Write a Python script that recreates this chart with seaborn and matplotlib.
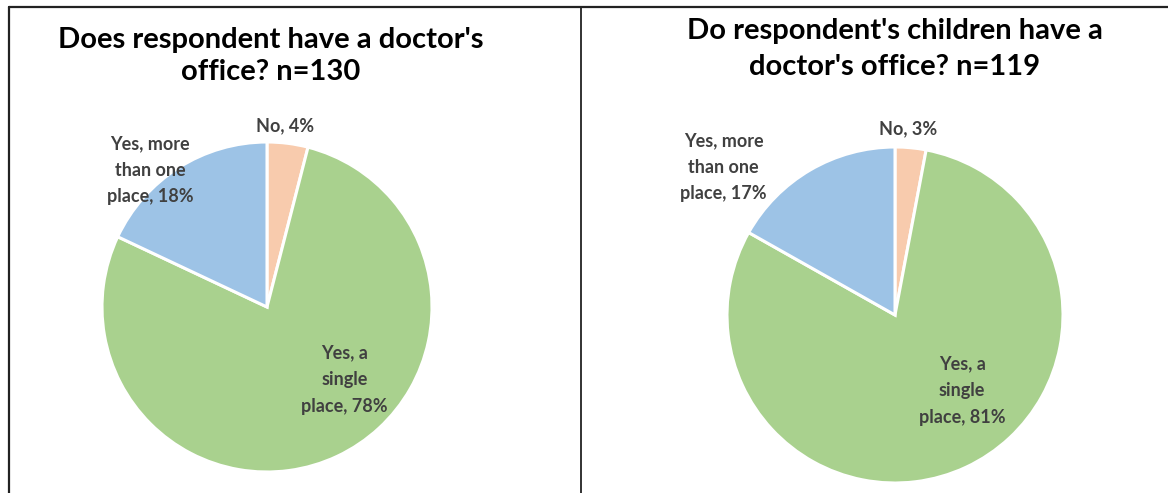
import matplotlib
matplotlib.use("Agg")
import matplotlib.pyplot as plt
from matplotlib.lines import Line2D
import seaborn as sns

# data
categories = ["No", "Yes, a single place", "Yes, more than one place"]
resp_pct = [4, 78, 18]
child_pct = [3, 81, 17]
colors = ["#F8CBAD", "#A9D18E", "#9DC3E6"]

sns.set_theme(style="white")
plt.rcParams["font.family"] = ["Lato", "DejaVu Sans"]

W, H = 1168, 493
fig = plt.figure(figsize=(W / 100, H / 100), dpi=100)
fig.patch.set_facecolor("white")


def make_ax(cx, cy, r, lim=1.3):
    # square axes centred on pie centre (pixel coords, y from top)
    half = r * lim
    return fig.add_axes([(cx - half) / W, 1 - (cy + half) / H, 2 * half / W, 2 * half / H]), lim


def draw_pie(ax, lim, values, label_pos, label_txt):
    ax.pie(values, colors=colors, startangle=90, counterclock=False,
           wedgeprops=dict(edgecolor="white", linewidth=2.2))
    ax.set_xlim(-lim, lim)
    ax.set_ylim(-lim, lim)
    ax.set_aspect("equal")
    ax.axis("off")
    for (x, y), t in zip(label_pos, label_txt):
        ax.text(x, y, t, ha="center", va="center", fontsize=13,
                fontweight="bold", color="#404040", linespacing=1.7)


ax1, lim1 = make_ax(267, 307, 165)
draw_pie(ax1, lim1, resp_pct,
         [(0.11, 1.10), (0.47, -0.44), (-0.71, 0.83)],
         ["No, %d%%" % resp_pct[0],
          "Yes, a\nsingle\nplace, %d%%" % resp_pct[1],
          "Yes, more\nthan one\nplace, %d%%" % resp_pct[2]])

ax2, lim2 = make_ax(895, 315, 168)
draw_pie(ax2, lim2, child_pct,
         [(0.08, 1.11), (0.40, -0.45), (-1.02, 0.88)],
         ["No, %d%%" % child_pct[0],
          "Yes, a\nsingle\nplace, %d%%" % child_pct[1],
          "Yes, more\nthan one\nplace, %d%%" % child_pct[2]])

# titles
fig.text(271 / W, 1 - 56 / H, "Does respondent have a doctor's\noffice? n=130",
         ha="center", va="center", fontsize=21, fontweight="bold",
         color="black", linespacing=1.25)
fig.text(895 / W, 1 - 49 / H, "Do respondent's children have a\ndoctor's office? n=119",
         ha="center", va="center", fontsize=21, fontweight="bold",
         color="black", linespacing=1.45)

# table borders
lc = "#222222"
fig.add_artist(Line2D([9 / W, 9 / W], [0, 1 - 7 / H], color=lc, lw=1.6))
fig.add_artist(Line2D([581 / W, 581 / W], [0, 1 - 7 / H], color=lc, lw=1.3))
fig.add_artist(Line2D([9 / W, 1], [1 - 7 / H, 1 - 7 / H], color=lc, lw=1.6))

fig.savefig("out.png", dpi=100)
